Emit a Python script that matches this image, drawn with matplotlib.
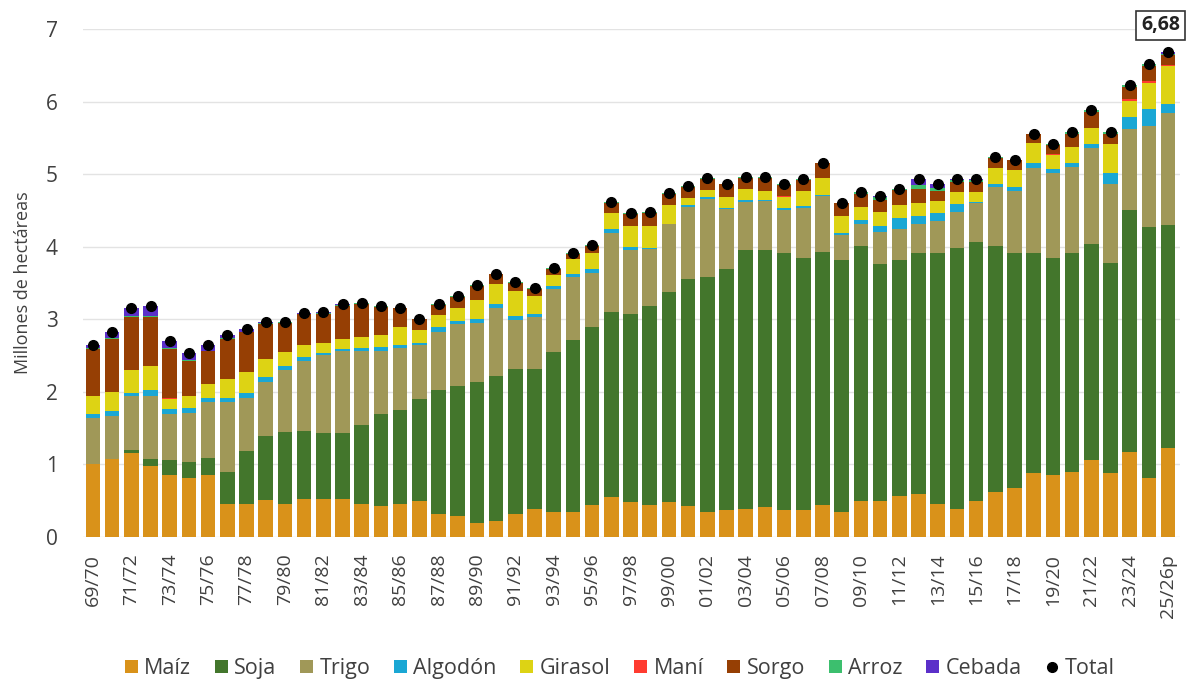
import matplotlib.pyplot as plt
import numpy as np

seasons = ["69/70", "70/71", "71/72", "72/73", "73/74", "74/75", "75/76", "76/77", "77/78", "78/79",
           "79/80", "80/81", "81/82", "82/83", "83/84", "84/85", "85/86", "86/87", "87/88", "88/89",
           "89/90", "90/91", "91/92", "92/93", "93/94", "94/95", "95/96", "96/97", "97/98", "98/99",
           "99/00", "00/01", "01/02", "02/03", "03/04", "04/05", "05/06", "06/07", "07/08", "08/09",
           "09/10", "10/11", "11/12", "12/13", "13/14", "14/15", "15/16", "16/17", "17/18", "18/19",
           "19/20", "20/21", "21/22", "22/23", "23/24", "24/25", "25/26p"]

maiz = [1.01, 1.07, 1.16, 0.98, 0.85, 0.82, 0.85, 0.45, 0.45, 0.51,
        0.45, 0.53, 0.52, 0.52, 0.46, 0.43, 0.46, 0.49, 0.32, 0.29,
        0.19, 0.22, 0.32, 0.39, 0.35, 0.35, 0.44, 0.55, 0.48, 0.44,
        0.48, 0.43, 0.35, 0.37, 0.39, 0.42, 0.37, 0.37, 0.44, 0.35,
        0.49, 0.49, 0.57, 0.59, 0.46, 0.39, 0.50, 0.62, 0.68, 0.88,
        0.85, 0.90, 1.06, 0.88, 1.17, 0.81, 1.23]
soja = [0.00, 0.01, 0.04, 0.10, 0.21, 0.21, 0.24, 0.45, 0.74, 0.88,
        1.00, 0.93, 0.91, 0.91, 1.08, 1.27, 1.29, 1.41, 1.70, 1.79,
        1.94, 2.00, 2.00, 1.92, 2.20, 2.37, 2.45, 2.55, 2.60, 2.75,
        2.89, 3.12, 3.23, 3.32, 3.56, 3.53, 3.54, 3.48, 3.49, 3.47,
        3.52, 3.27, 3.25, 3.32, 3.45, 3.59, 3.57, 3.39, 3.23, 3.04,
        3.00, 3.01, 2.98, 2.90, 3.33, 3.46, 3.07]
trigo = [0.63, 0.59, 0.75, 0.86, 0.63, 0.68, 0.77, 0.96, 0.72, 0.75,
         0.85, 0.96, 1.08, 1.13, 1.02, 0.87, 0.86, 0.74, 0.81, 0.86,
         0.82, 0.94, 0.67, 0.72, 0.87, 0.86, 0.75, 1.09, 0.87, 0.78,
         0.94, 1.00, 1.08, 0.83, 0.67, 0.68, 0.60, 0.69, 0.77, 0.34,
         0.31, 0.45, 0.42, 0.41, 0.44, 0.50, 0.53, 0.82, 0.86, 1.17,
         1.17, 1.19, 1.32, 1.09, 1.12, 1.39, 1.54]
algodon = [0.05, 0.06, 0.03, 0.08, 0.07, 0.07, 0.05, 0.05, 0.07, 0.07,
           0.06, 0.06, 0.03, 0.03, 0.05, 0.05, 0.03, 0.04, 0.06, 0.04,
           0.05, 0.05, 0.05, 0.04, 0.04, 0.04, 0.06, 0.06, 0.05, 0.02,
           0.01, 0.02, 0.02, 0.02, 0.02, 0.02, 0.02, 0.02, 0.02, 0.03,
           0.05, 0.08, 0.15, 0.11, 0.11, 0.11, 0.02, 0.04, 0.06, 0.07,
           0.05, 0.05, 0.05, 0.14, 0.17, 0.24, 0.13]
girasol = [0.26, 0.27, 0.32, 0.33, 0.14, 0.16, 0.20, 0.27, 0.29, 0.25,
           0.19, 0.17, 0.13, 0.14, 0.14, 0.16, 0.26, 0.17, 0.17, 0.18,
           0.27, 0.28, 0.35, 0.25, 0.15, 0.21, 0.22, 0.22, 0.29, 0.29,
           0.25, 0.10, 0.10, 0.14, 0.15, 0.12, 0.15, 0.21, 0.23, 0.24,
           0.18, 0.19, 0.18, 0.18, 0.17, 0.17, 0.14, 0.22, 0.23, 0.27,
           0.19, 0.23, 0.23, 0.40, 0.22, 0.36, 0.52]
mani = [0.00, 0.00, 0.00, 0.00, 0.02, 0.01, 0.00, 0.00, 0.00, 0.00,
        0.00, 0.00, 0.00, 0.00, 0.00, 0.00, 0.00, 0.00, 0.00, 0.00,
        0.00, 0.00, 0.00, 0.00, 0.00, 0.00, 0.00, 0.00, 0.00, 0.00,
        0.00, 0.00, 0.00, 0.00, 0.00, 0.00, 0.02, 0.00, 0.00, 0.00,
        0.00, 0.00, 0.00, 0.00, 0.00, 0.00, 0.00, 0.00, 0.00, 0.00,
        0.02, 0.00, 0.00, 0.00, 0.02, 0.02, 0.02]
sorgo = [0.64, 0.73, 0.73, 0.68, 0.67, 0.48, 0.45, 0.55, 0.55, 0.48,
         0.40, 0.42, 0.41, 0.46, 0.46, 0.39, 0.25, 0.15, 0.14, 0.15,
         0.19, 0.13, 0.11, 0.10, 0.09, 0.07, 0.09, 0.14, 0.16, 0.19,
         0.16, 0.16, 0.16, 0.18, 0.16, 0.18, 0.15, 0.15, 0.20, 0.17,
         0.18, 0.17, 0.21, 0.18, 0.14, 0.13, 0.13, 0.13, 0.13, 0.12,
         0.12, 0.18, 0.22, 0.15, 0.17, 0.21, 0.13]
arroz = [0.01, 0.01, 0.01, 0.01, 0.01, 0.01, 0.01, 0.01, 0.01, 0.01,
         0.01, 0.01, 0.01, 0.01, 0.01, 0.01, 0.01, 0.01, 0.01, 0.01,
         0.01, 0.01, 0.01, 0.01, 0.01, 0.01, 0.01, 0.01, 0.01, 0.01,
         0.01, 0.01, 0.01, 0.01, 0.01, 0.01, 0.01, 0.01, 0.01, 0.01,
         0.02, 0.03, 0.02, 0.06, 0.04, 0.03, 0.03, 0.02, 0.01, 0.01,
         0.02, 0.02, 0.03, 0.02, 0.03, 0.03, 0.02]
cebada = [0.05, 0.09, 0.12, 0.14, 0.10, 0.09, 0.07, 0.04, 0.03, 0.02,
          0.01, 0.01, 0.01, 0.01, 0.01, 0.00, 0.00, 0.00, 0.00, 0.00,
          0.00, 0.00, 0.00, 0.00, 0.00, 0.00, 0.00, 0.00, 0.00, 0.00,
          0.00, 0.00, 0.00, 0.00, 0.00, 0.00, 0.00, 0.00, 0.00, 0.00,
          0.00, 0.02, 0.00, 0.08, 0.05, 0.02, 0.02, 0.00, 0.00, 0.00,
          0.00, 0.00, 0.00, 0.00, 0.00, 0.00, 0.02]

series = [
    ("Maíz", maiz, "#d9921a"),
    ("Soja", soja, "#43762c"),
    ("Trigo", trigo, "#a09858"),
    ("Algodón", algodon, "#1aa7d4"),
    ("Girasol", girasol, "#ddd314"),
    ("Maní", mani, "#ff3b30"),
    ("Sorgo", sorgo, "#963f04"),
    ("Arroz", arroz, "#3cbf6e"),
    ("Cebada", cebada, "#5b2fc9"),
]

TEXT = "#404040"
plt.rcParams["font.family"] = ["Open Sans", "DejaVu Sans"]

fig = plt.figure(figsize=(11.92, 6.93), dpi=100)
ax = fig.add_axes([0.0696, 0.2251, 0.9204, 0.7329])

x = np.arange(len(seasons))
bottom = np.zeros(len(seasons))
for name, vals, color in series:
    vals = np.array(vals)
    ax.bar(x, vals, bottom=bottom, width=0.76, color=color, label=name, zorder=2)
    bottom += vals

total = bottom
ax.plot(x, total, "o", color="black", markersize=7, label="Total", zorder=3)

ax.annotate(f"{total[-1]:.2f}".replace(".", ","), (x[-1], total[-1]), xytext=(x[-1] - 0.4, 7.05),
            ha="center", va="center", fontsize=14, fontweight="bold", color="#222222",
            bbox=dict(boxstyle="square,pad=0.25", fc="white", ec="#333333", lw=1.2),
            annotation_clip=False)

ax.set_xlim(-0.52, 56.62)
ax.set_ylim(0, 7)
ax.set_yticks(range(0, 8))
ax.set_xticks(x[::2])
ax.set_xticklabels(seasons[::2], rotation=90, fontsize=14, color=TEXT)
ax.tick_params(axis="y", labelsize=15, labelcolor=TEXT, length=0, pad=18)
ax.tick_params(axis="x", length=0, pad=12)
ax.set_ylabel("Millones de hectáreas", fontsize=13, color=TEXT, labelpad=10)
ax.yaxis.grid(True, color="#e3e3e3", lw=1, zorder=0)
ax.set_axisbelow(True)
for s in ax.spines.values():
    s.set_visible(False)

handles, labels = ax.get_legend_handles_labels()
handles = handles[1:] + handles[:1]
labels = labels[1:] + labels[:1]
fig.legend(handles, labels, loc="center", bbox_to_anchor=(0.52, 0.035), ncol=10, frameon=False,
           fontsize=15.5, handlelength=0.6, handleheight=0.6, handletextpad=0.3, columnspacing=1.1,
           labelcolor=TEXT)

fig.savefig("out.png", dpi=100, facecolor="white")
